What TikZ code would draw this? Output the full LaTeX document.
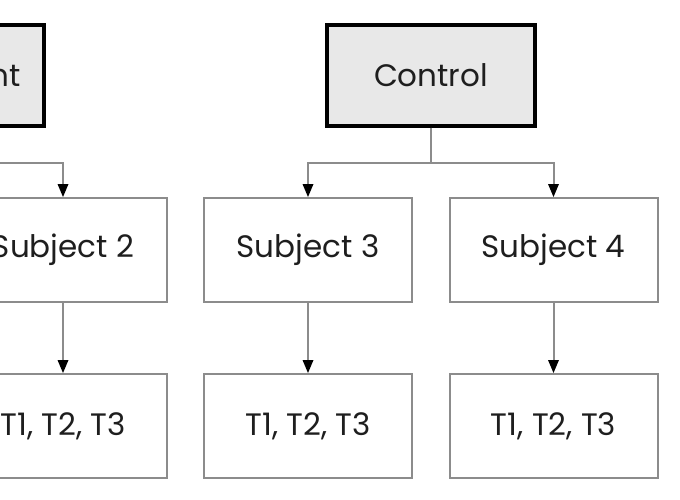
\documentclass[tikz,border=0pt]{standalone}
\usepackage{fontspec}
\setmainfont{Poppins}
\usetikzlibrary{arrows.meta}
\definecolor{lncol}{HTML}{8C8C8C}
\definecolor{topfill}{HTML}{E8E8E8}
\definecolor{txt}{HTML}{1E1E1E}
\begin{document}
\begin{tikzpicture}[x=1pt,y=1pt,
  topbox/.style={draw=black, line width=3.5pt, fill=topfill, minimum width=208pt, minimum height=101pt, inner sep=0pt, text=txt, font=\fontsize{31}{36}\selectfont},
  subbox/.style={draw=lncol, line width=2pt, fill=white, minimum width=208pt, minimum height=104pt, inner sep=0pt, text=txt, font=\fontsize{31}{36}\selectfont},
  link/.style={draw=lncol, line width=2pt},
  conn/.style={link, -{Triangle[width=11pt,length=13pt,color=black,fill=black,line width=0pt]}}]
\useasboundingbox (0,0) rectangle (680,-500);
\clip (0,0) rectangle (680,-500);
\node[topbox] (treat) at (-60,-75.5) {Treatment};
\node[topbox] (ctrl) at (431,-75.5) {Control};
\node[subbox] (s2) at (63,-250) {Subject 2};
\node[subbox] (s3) at (308,-250) {Subject 3};
\node[subbox] (s4) at (553.5,-250) {Subject 4};
\node[subbox] (t2) at (63,-426) {T1, T2, T3};
\node[subbox] (t3) at (308,-426) {T1, T2, T3};
\node[subbox] (t4) at (553.5,-426) {T1, T2, T3};
\coordinate (tf) at (-60,-163);
\coordinate (cf) at (431,-163);
\draw[link] (treat.south) -- (tf);
\draw[conn] (tf) -| (s2.north);
\draw[link] (ctrl.south) -- (cf);
\draw[conn] (cf) -| (s3.north);
\draw[conn] (cf) -| (s4.north);
\draw[conn] (s2.south) -- (t2.north);
\draw[conn] (s3.south) -- (t3.north);
\draw[conn] (s4.south) -- (t4.north);
\end{tikzpicture}
\end{document}
